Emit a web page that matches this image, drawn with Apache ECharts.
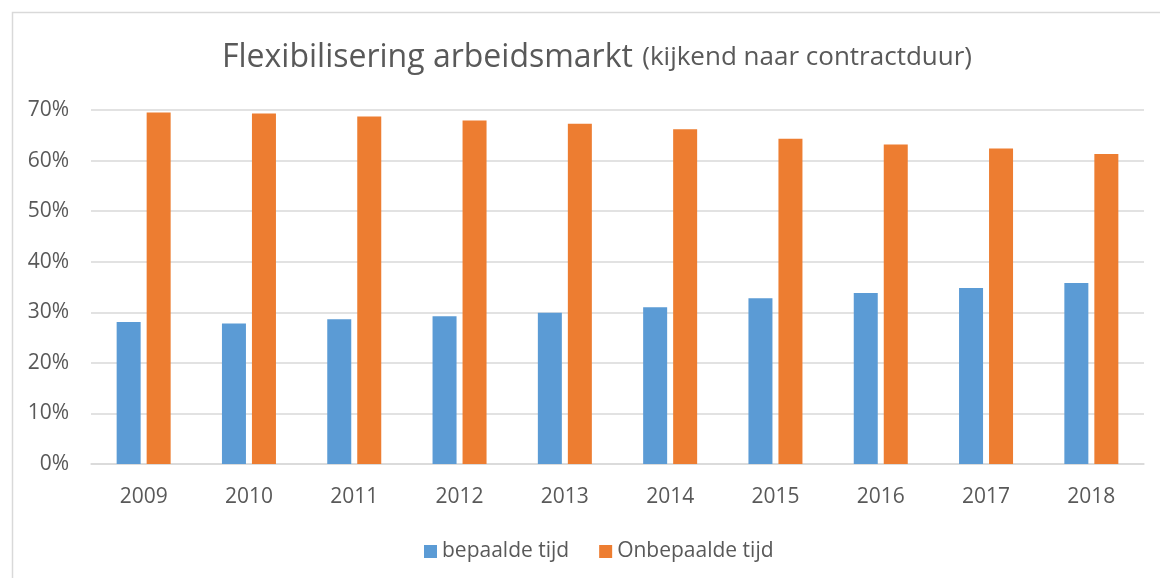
<!DOCTYPE html>
<html>
<head>
<meta charset="utf-8">
<script src="https://cdn.jsdelivr.net/npm/echarts@6/dist/echarts.min.js"></script>
<style>
  html, body { margin: 0; padding: 0; background: #fff; }
  #chart { width: 1160px; height: 578px; }
</style>
</head>
<body>
<div id="chart"></div>
<script>
// jaartallen en percentages
const years = ['2009', '2010', '2011', '2012', '2013', '2014', '2015', '2016', '2017', '2018'];
const bepaald = [28.1, 27.8, 28.6, 29.2, 29.9, 31.0, 32.8, 33.8, 34.8, 35.8];
const onbepaald = [69.5, 69.3, 68.7, 67.9, 67.3, 66.2, 64.3, 63.2, 62.4, 61.3];
const seriesNames = ['bepaalde tijd', 'Onbepaalde tijd'];

const textColor = '#595959';
const gridColor = '#d9d9d9';
const font = '"Open Sans", sans-serif';

var myChart = echarts.init(document.getElementById('chart'), null, { renderer: 'canvas' });

myChart.setOption({
    animation: false,
    backgroundColor: '#fff',
    textStyle: { fontFamily: font, color: textColor },
    graphic: [{
        type: 'rect',
        left: 10, top: 10,
        shape: { width: 1170, height: 600 },
        style: { fill: 'none', stroke: gridColor, lineWidth: 1.5 },
        silent: true
    }],
    title: {
        text: '{a|Flexibilisering arbeidsmarkt}  {b|(kijkend naar contractduur)}',
        left: 217,
        top: 37,
        textStyle: {
            fontWeight: 'normal',
            rich: {
                a: { fontFamily: font, fontSize: 32, fontWeight: 'normal', color: textColor },
                b: { fontFamily: font, fontSize: 26, fontWeight: 'normal', color: textColor }
            }
        }
    },
    legend: {
        top: 536,
        left: 419,
        itemWidth: 13,
        itemHeight: 13,
        itemGap: 30,
        icon: 'rect',
        textStyle: { fontFamily: font, fontSize: 21, color: textColor },
        data: seriesNames
    },
    grid: { left: 91, right: 16, top: 110, bottom: 114, containLabel: false },
    xAxis: {
        type: 'category',
        data: years,
        axisTick: { show: false },
        axisLine: { lineStyle: { color: gridColor, width: 1.5 } },
        axisLabel: { fontFamily: font, fontSize: 21, color: textColor, margin: 23 }
    },
    yAxis: {
        type: 'value',
        min: 0, max: 70, interval: 10,
        axisLine: { show: false },
        axisTick: { show: false },
        splitLine: { lineStyle: { color: gridColor, width: 1.5 } },
        axisLabel: { fontFamily: font, fontSize: 21, color: textColor, margin: 22, formatter: '{value}%' }
    },
    series: [{
        name: seriesNames[0],
        type: 'bar',
        data: bepaald,
        barWidth: 24,
        barGap: '25%',
        itemStyle: { color: '#5B9BD5' }
    }, {
        name: seriesNames[1],
        type: 'bar',
        data: onbepaald,
        barWidth: 24,
        barGap: '25%',
        itemStyle: { color: '#ED7D31' }
    }]
});

window.addEventListener('resize', function () { myChart.resize(); });
</script>
</body>
</html>
